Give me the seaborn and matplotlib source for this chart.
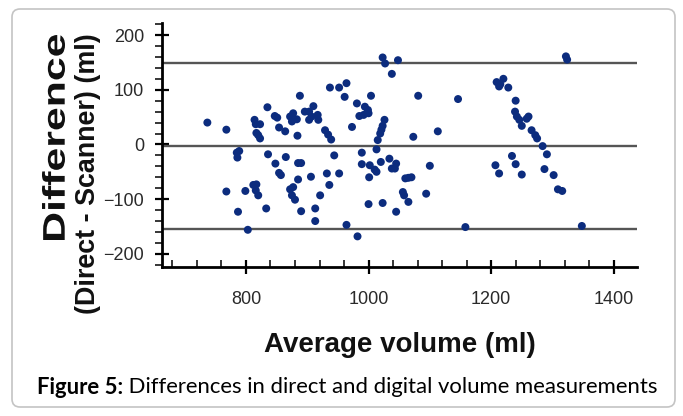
import pandas as pd
import matplotlib
matplotlib.use("Agg")
import matplotlib.pyplot as plt
from matplotlib.patches import FancyBboxPatch, PathPatch
from matplotlib.ticker import MultipleLocator
from matplotlib.textpath import TextPath
from matplotlib.font_manager import FontProperties
from matplotlib.transforms import Affine2D
import seaborn as sns

# Bland-Altman data (ml)
avg_volume = [737, 768, 785, 786, 789, 768, 787, 803, 799, 814, 816, 823, 817, 820, 823, 812, 817, 816, 820, 833,
              835, 847, 851, 854, 864, 836, 848, 854, 857, 865, 872, 877, 875, 880, 885, 890, 885, 890, 872, 877,
              883, 875, 884, 888, 896, 903, 910, 907, 917, 918, 903, 906, 913, 913, 921, 929, 934, 939, 932, 944,
              936, 952, 937, 952, 964, 961, 964, 973, 982, 981, 985, 989, 989, 994, 999, 992, 1000, 1004, 1002, 1010,
              1013, 1001, 1000, 1013, 1015, 1019, 1021, 1023, 1026, 1020, 1023, 1023, 1027, 1048, 1038, 1081, 1146, 1073, 1113, 1034,
              1045, 1038, 1043, 1100, 1060, 1065, 1070, 1056, 1058, 1065, 1094, 1045, 1158, 1209, 1215, 1220, 1213, 1228, 1240, 1239,
              1242, 1246, 1250, 1258, 1261, 1266, 1272, 1275, 1284, 1291, 1234, 1240, 1207, 1213, 1250, 1287, 1302, 1309, 1316, 1322,
              1324, 1348]
difference = [40, 27, -15, -24, -12, -86, -123, -156, -85, 45, 37, 37, 21, 17, 11, -74, -73, -84, -93, -117,
              68, 52, 49, 31, 24, -18, -35, -52, -56, -23, -82, -78, -93, -101, -64, -122, -34, -34, 51, 57,
              46, 42, 16, 89, 60, 60, 70, 51, 54, 45, 45, -59, -117, -140, -93, 26, 18, 9, -53, -20,
              -74, -53, 104, 104, 112, 87, -147, 32, -168, 75, 52, -15, -36, 69, 63, 54, 57, 89, -38, -46,
              -50, -60, -109, -9, 8, 20, 27, 34, 45, -32, -107, 159, 148, 154, 129, 89, 83, 14, 24, -26,
              -35, -44, -44, -39, -62, -61, -60, -87, -93, -105, -90, -123, -151, 114, 110, 120, 106, 104, 80, 60,
              51, 45, 34, 47, 51, 26, 17, 11, -3, -18, -21, -36, -38, -53, -55, -45, -56, -82, -85, 161,
              155, -149]

mean_diff = -3
upper_loa = 148
lower_loa = -154

x_ticks = [800, 1000, 1200, 1400]
y_ticks = [-200, -100, 0, 100, 200]

ylabel_top = "Difference"
ylabel_bottom = "(Direct - Scanner) (ml)"
xlabel = "Average volume (ml)"
caption_bold = "Figure 5:"
caption_rest = " Differences in direct and digital volume measurements"

W, H = 683, 416


def stretched_vertical_text(fig, text, x_right, y_top, length, height, color):
    # the first y-label line is stretched along its run in the original
    prop = FontProperties(family='Liberation Sans', weight='bold')
    tp = TextPath((0, 0), text, size=1, prop=prop)
    ext = tp.get_extents()
    sx = length / ext.width
    sy = height / ext.height
    # text runs bottom to top, baseline on the right side
    tr = (Affine2D().translate(-ext.x0, -ext.y0).scale(sx, sy)
          .rotate_deg(90).translate(x_right, H - y_top - length))
    patch = PathPatch(tr.transform_path(tp), facecolor=color, edgecolor='none',
                      transform=None)
    fig.patches.append(patch)


def main():
    sns.set_style("ticks")
    plt.rcParams['font.family'] = ['Liberation Sans', 'DejaVu Sans']

    df = pd.DataFrame({'avg': avg_volume, 'diff': difference})

    fig = plt.figure(figsize=(W / 100, H / 100), dpi=100)
    ax = fig.add_axes([162 / W, 1 - 267 / H, 475 / W, (267 - 23) / H])

    for v in [upper_loa, mean_diff, lower_loa]:
        ax.axhline(v, color='#555555', lw=1.7, zorder=1)

    sns.scatterplot(data=df, x='avg', y='diff', ax=ax, color='#0c2c7e', s=33,
                    edgecolor='none', linewidth=0, zorder=3)

    ax.set_xlim(663, 1438)
    ax.set_ylim(-224, 222)
    ax.set_xticks(x_ticks)
    ax.set_yticks(y_ticks)
    ax.xaxis.set_minor_locator(MultipleLocator(40))
    ax.yaxis.set_minor_locator(MultipleLocator(20))

    ax.tick_params(axis='both', which='major', direction='inout', length=10, width=1.6,
                   color='black', labelsize=13, labelcolor='#2a2a2a')
    ax.tick_params(axis='x', which='major', pad=12)
    ax.tick_params(axis='y', which='major', pad=8)
    ax.tick_params(axis='x', which='minor', direction='in', length=5, width=1.1, color='black')
    ax.tick_params(axis='y', which='minor', direction='out', length=5, width=1.1, color='black')

    sns.despine(ax=ax)
    for side in ['left', 'bottom']:
        ax.spines[side].set_linewidth(2)
        ax.spines[side].set_color('black')

    ax.set_xlabel('')
    ax.set_ylabel('')
    fig.text(400 / W, 1 - 345 / H, xlabel, ha='center', va='center',
             fontsize=20, fontweight='bold', color='#111111')
    fig.text(88 / W, 1 - 33 / H, ylabel_bottom, rotation=90, ha='center', va='top',
             fontsize=19.4, fontweight='bold', color='#111111')
    stretched_vertical_text(fig, ylabel_top, 65, 35, 205, 23, '#111111')

    # rounded frame round the whole figure
    frame = FancyBboxPatch((0.12, 0.09), 6.63, 3.98, boxstyle='round,pad=0,rounding_size=0.08',
                           transform=fig.dpi_scale_trans, facecolor='none',
                           edgecolor='#c4c4c4', lw=1.2)
    fig.patches.append(frame)

    # caption: bold part then regular part
    renderer = fig.canvas.get_renderer()
    cap_font = ['Lato', 'DejaVu Sans']
    t1 = fig.text(0, 1 - 387 / H, caption_bold, fontsize=15.9, fontweight='bold',
                  family=cap_font, va='center', color='black')
    t2 = fig.text(0, 1 - 387 / H, caption_rest, fontsize=15.9,
                  family=cap_font, va='center', color='black')
    w1 = t1.get_window_extent(renderer).width
    w2 = t2.get_window_extent(renderer).width
    x0 = 347 - (w1 + w2) / 2
    t1.set_x(x0 / W)
    t2.set_x((x0 + w1) / W)

    fig.savefig('out.png', dpi=100)
    plt.close(fig)


if __name__ == '__main__':
    main()
